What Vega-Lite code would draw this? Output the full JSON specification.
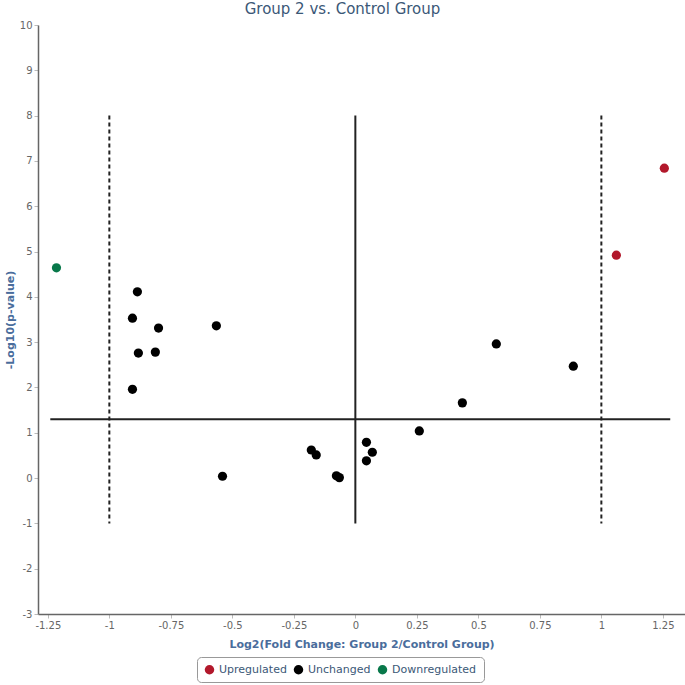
{
  "$schema": "https://vega.github.io/schema/vega-lite/v6.json",
  "width": 647,
  "height": 589,
  "autosize": {"type": "none"},
  "padding": {"left": 38, "top": 25, "right": 0, "bottom": 71},
  "background": "white",
  "title": {"text": "Group 2 vs. Control Group", "fontSize": 15, "fontWeight": "normal", "color": "#3b5877", "font": "DejaVu Sans", "anchor": "middle", "frame": "group", "dx": -19, "offset": 3},
  "config": {
    "view": {"stroke": null},
    "font": "DejaVu Sans",
    "axis": {"grid": false, "labelColor": "#666", "labelFontSize": 10, "tickColor": "#bbb", "tickSize": 4, "domainColor": "#666", "domainWidth": 1.5, "titleColor": "#4a6d9c", "titleFontSize": 11, "titleFontWeight": "bold"}
  },
  "datasets": {
    "pts": [
      {"fc": -1.215, "p": 4.64, "status": "Downregulated"},
      {"fc": 1.061, "p": 4.92, "status": "Upregulated"},
      {"fc": 1.256, "p": 6.84, "status": "Upregulated"},
      {"fc": -0.886, "p": 4.11, "status": "Unchanged"},
      {"fc": -0.906, "p": 3.53, "status": "Unchanged"},
      {"fc": -0.80, "p": 3.31, "status": "Unchanged"},
      {"fc": -0.565, "p": 3.36, "status": "Unchanged"},
      {"fc": -0.882, "p": 2.76, "status": "Unchanged"},
      {"fc": -0.813, "p": 2.78, "status": "Unchanged"},
      {"fc": -0.906, "p": 1.96, "status": "Unchanged"},
      {"fc": -0.54, "p": 0.04, "status": "Unchanged"},
      {"fc": -0.179, "p": 0.62, "status": "Unchanged"},
      {"fc": -0.159, "p": 0.51, "status": "Unchanged"},
      {"fc": -0.077, "p": 0.05, "status": "Unchanged"},
      {"fc": -0.065, "p": 0.01, "status": "Unchanged"},
      {"fc": 0.045, "p": 0.79, "status": "Unchanged"},
      {"fc": 0.069, "p": 0.57, "status": "Unchanged"},
      {"fc": 0.045, "p": 0.38, "status": "Unchanged"},
      {"fc": 0.26, "p": 1.04, "status": "Unchanged"},
      {"fc": 0.435, "p": 1.66, "status": "Unchanged"},
      {"fc": 0.573, "p": 2.96, "status": "Unchanged"},
      {"fc": 0.886, "p": 2.47, "status": "Unchanged"}
    ],
    "vdash": [
      {"x": -1, "y": 8, "y2": -1},
      {"x": 1, "y": 8, "y2": -1}
    ],
    "vsolid": [
      {"x": 0, "y": 8, "y2": -1}
    ],
    "hsolid": [
      {"x": -1.24, "x2": 1.28, "y": 1.3}
    ]
  },
  "layer": [
    {
      "data": {"name": "vdash"},
      "mark": {"type": "rule", "color": "#222", "strokeWidth": 2, "strokeDash": [4, 3]},
      "encoding": {
        "x": {"field": "x", "type": "quantitative", "scale": {"domain": [-1.29, 1.34], "nice": false, "zero": false}},
        "y": {"field": "y", "type": "quantitative", "scale": {"domain": [-3, 10], "nice": false}},
        "y2": {"field": "y2"}
      }
    },
    {
      "data": {"name": "vsolid"},
      "mark": {"type": "rule", "color": "#222", "strokeWidth": 2},
      "encoding": {
        "x": {"field": "x", "type": "quantitative"},
        "y": {"field": "y", "type": "quantitative"},
        "y2": {"field": "y2"}
      }
    },
    {
      "data": {"name": "hsolid"},
      "mark": {"type": "rule", "color": "#222", "strokeWidth": 2},
      "encoding": {
        "x": {"field": "x", "type": "quantitative"},
        "x2": {"field": "x2"},
        "y": {"field": "y", "type": "quantitative"}
      }
    },
    {
      "data": {"name": "pts"},
      "mark": {"type": "circle", "size": 85, "opacity": 1},
      "encoding": {
        "x": {"field": "fc", "type": "quantitative", "title": "Log2(Fold Change: Group 2/Control Group)",
              "axis": {"values": [-1.25, -1, -0.75, -0.5, -0.25, 0, 0.25, 0.5, 0.75, 1, 1.25], "labelExpr": "replace(format(datum.value, '.2~f'), '−', '-')", "titlePadding": 8}},
        "y": {"field": "p", "type": "quantitative", "title": "-Log10(p-value)",
              "axis": {"values": [-3, -2, -1, 0, 1, 2, 3, 4, 5, 6, 7, 8, 9, 10], "labelExpr": "replace(format(datum.value, 'd'), '−', '-')", "titlePadding": 4}},
        "color": {"field": "status", "type": "nominal",
                  "scale": {"domain": ["Upregulated", "Unchanged", "Downregulated"], "range": ["#b2182b", "#000000", "#08784a"]},
                  "legend": {"title": null, "orient": "none", "direction": "horizontal", "legendX": 159, "legendY": 632,
                             "symbolType": "circle", "symbolSize": 90, "symbolStrokeWidth": 0, "labelFontSize": 11, "labelColor": "#3b5877",
                             "strokeColor": "#999", "padding": 7, "cornerRadius": 4, "columnPadding": 6, "fillColor": "white"}}
      }
    }
  ]
}
